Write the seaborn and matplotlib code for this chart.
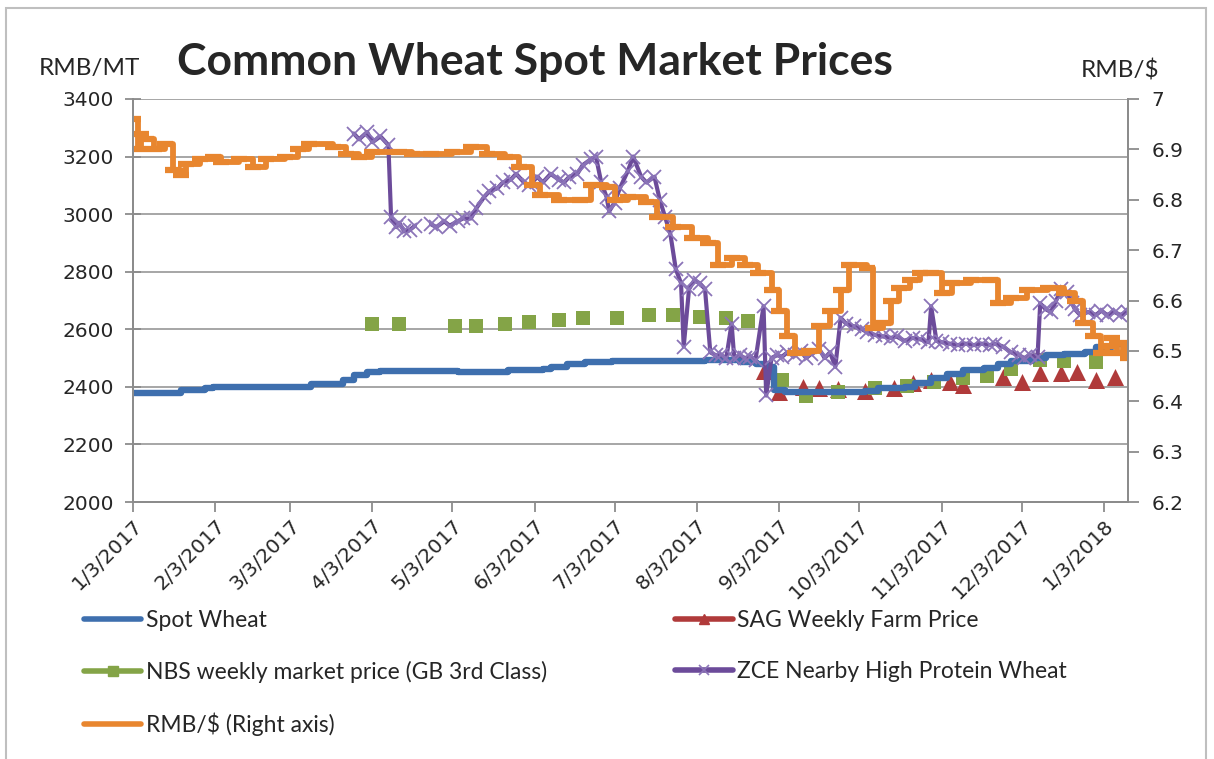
import matplotlib
matplotlib.use("Agg")
import matplotlib.pyplot as plt
import matplotlib.ticker as mticker
from matplotlib.lines import Line2D
from matplotlib.patches import Rectangle
import numpy as np
import pandas as pd
import seaborn as sns


START = pd.Timestamp("2017-01-03")
LAST_DAY = 374

BLUE = "#3E6FAE"
RED = "#B03A3A"
GREEN = "#84A447"
PURPLE = "#6C4B9A"
PURPLE_LIGHT = "#8B74B8"
ORANGE = "#E8862F"
GRID = "#a6a6a6"
AXIS = "#8c8c8c"

# days counted from 1/3/2017
spot_day = [0, 16, 18, 27, 30, 65, 67, 77, 79, 83, 88, 93, 118, 122, 136, 141, 154,
            157, 163, 170, 180, 215, 228, 234, 238, 241, 245, 275, 280, 290, 294, 300,
            306, 312, 320, 325, 330, 338, 343, 350, 358, 362, 368, 374]
spot_price = [2380, 2380, 2390, 2395, 2400, 2400, 2410, 2410, 2425, 2440, 2450, 2455,
              2455, 2450, 2452, 2458, 2462, 2470, 2478, 2485, 2490, 2492, 2488, 2480,
              2470, 2390, 2382, 2385, 2395, 2400, 2412, 2430, 2445, 2458, 2465, 2480,
              2490, 2500, 2510, 2515, 2520, 2540, 2548, 2552]

sag_day = [237, 243, 252, 258, 265, 275, 286, 293, 300, 307, 312, 327, 334, 341, 349,
           355, 362, 369]
sag_price = [2455, 2382, 2400, 2395, 2392, 2385, 2395, 2413, 2425, 2418, 2408, 2435,
             2417, 2448, 2448, 2452, 2424, 2435]

nbs_day = [90, 100, 121, 129, 140, 149, 160, 169, 182, 194, 203, 213, 223, 231, 244,
           253, 265, 279, 291, 301, 312, 321, 330, 341, 350, 362]
nbs_price = [2620, 2620, 2612, 2612, 2618, 2625, 2632, 2638, 2640, 2648, 2648, 2642,
             2640, 2630, 2425, 2368, 2382, 2395, 2403, 2417, 2430, 2437, 2462, 2495,
             2490, 2488]

zce_day = [83, 85, 88, 90, 93, 96, 97, 99, 100, 102, 104, 106,
           112, 114, 117, 119, 122, 124, 127, 129, 132, 134, 137, 139, 142, 144, 147,
           149, 152, 154, 157, 160, 162, 164, 167, 169, 172, 174, 176, 178, 179, 181,
           183, 186, 188, 191, 193, 196, 198, 200, 202, 204, 206, 207, 209, 211, 213,
           215, 217, 219, 221, 223, 225, 226, 228, 230, 232, 234, 237, 238, 240, 242,
           244, 246, 249, 251, 253, 255, 258, 260, 262, 264, 266, 268, 271, 274, 276,
           279, 282, 285, 287, 290, 293, 296, 299, 300, 302, 304, 307, 310, 313, 316,
           319, 322, 324, 327, 330, 333, 335, 337, 340, 341, 343, 345, 347, 349, 351,
           353, 354, 356, 359, 362, 364, 366, 369, 371, 374]
zce_price = [3280, 3260, 3285, 3250, 3270, 3240, 2990, 2955, 2970, 2940, 2945, 2960,
             2965, 2955, 2975, 2960, 2975, 2985, 2985, 3020, 3060, 3080, 3090, 3110,
             3120, 3140, 3110, 3100, 3130, 3110, 3140, 3120, 3110, 3130, 3140, 3170,
             3190, 3200, 3110, 3060, 3010, 3040, 3090, 3150, 3200, 3130, 3110, 3130,
             3050, 2990, 2930, 2810, 2760, 2540, 2740, 2770, 2760, 2740, 2520, 2510,
             2510, 2500, 2620, 2500, 2510, 2500, 2505, 2495, 2680, 2370, 2500, 2510,
             2505, 2520, 2510, 2525, 2500, 2515, 2530, 2500, 2520, 2470, 2640, 2620,
             2610, 2600, 2590, 2580, 2575, 2570, 2575, 2560, 2570, 2565, 2555, 2680,
             2560, 2555, 2550, 2545, 2550, 2545, 2550, 2545, 2550, 2540, 2520, 2510,
             2500, 2510, 2505, 2690, 2670, 2660, 2700, 2740, 2730, 2690, 2670, 2650,
             2660, 2650, 2665, 2650, 2660, 2650, 2660]

rmb_day = [0, 2, 3, 5, 8, 12, 15, 18, 20, 25, 30, 33, 40, 45, 50, 57, 62, 66, 75, 80,
           85, 90, 100, 105, 112, 120, 127, 133, 140, 145, 150, 153, 160, 168, 172, 178,
           181, 186, 193, 197, 203, 210, 216, 220, 225, 230, 235, 240, 243, 246, 249,
           254, 258, 262, 266, 269, 276, 278, 282, 285, 288, 292, 296, 300, 304, 308,
           315, 322, 325, 330, 336, 344, 350, 354, 357, 361, 364, 366, 368, 370, 372, 374]
rmb_rate = [6.96, 6.90, 6.93, 6.92, 6.90, 6.91, 6.86, 6.85, 6.87, 6.88, 6.885, 6.875,
            6.88, 6.865, 6.88, 6.885, 6.90, 6.91, 6.905, 6.89, 6.885, 6.895, 6.895,
            6.89, 6.89, 6.895, 6.905, 6.89, 6.885, 6.865, 6.83, 6.81, 6.80, 6.80, 6.83,
            6.825, 6.80, 6.805, 6.795, 6.765, 6.745, 6.725, 6.715, 6.67, 6.685, 6.67,
            6.655, 6.62, 6.58, 6.53, 6.495, 6.50, 6.55, 6.58, 6.62, 6.67, 6.665, 6.545,
            6.555, 6.60, 6.625, 6.64, 6.655, 6.655, 6.615, 6.635, 6.64, 6.64, 6.595,
            6.605, 6.62, 6.625, 6.615, 6.60, 6.555, 6.53, 6.495, 6.51, 6.525, 6.495,
            6.515, 6.485]

left_ticks = [2000, 2200, 2400, 2600, 2800, 3000, 3200, 3400]
right_ticks = [6.2, 6.3, 6.4, 6.5, 6.6, 6.7, 6.8, 6.9, 7.0]


def frame(days, values):
    return pd.DataFrame({
        "date": START + pd.to_timedelta(days, unit="D"),
        "value": values,
    })


spot = frame(spot_day, spot_price)
sag = frame(sag_day, sag_price)
nbs = frame(nbs_day, nbs_price)
zce = frame(zce_day, zce_price)
zce["seg"] = (np.array(zce_day) > 108).astype(int)  # gap around the May holiday
rmb = frame(rmb_day, rmb_rate)

sns.set_theme(style="white")
plt.rcParams["font.family"] = ["DejaVu Sans"]

fig = plt.figure(figsize=(12.14, 7.59), dpi=100)
ax = fig.add_axes([133 / 1214, 1 - 502 / 759, 995 / 1214, 403 / 759])

sns.lineplot(data=spot, x="date", y="value", ax=ax, color=BLUE, lw=4.6,
             drawstyle="steps-post", legend=False)
sns.scatterplot(data=sag, x="date", y="value", ax=ax, color=RED, marker="^",
                s=150, linewidth=0, legend=False)
sns.scatterplot(data=nbs, x="date", y="value", ax=ax, color=GREEN, marker="s",
                s=110, linewidth=0, legend=False)
sns.lineplot(data=zce, x="date", y="value", ax=ax, units="seg", estimator=None,
             color=PURPLE, lw=3, marker="x", markersize=10, mew=1.3,
             mec=PURPLE_LIGHT, legend=False)

ax2 = ax.twinx()
sns.lineplot(data=rmb, x="date", y="value", ax=ax2, color=ORANGE, lw=4.2,
             drawstyle="steps-post", marker="_", markersize=11, mew=4.5,
             mec=ORANGE, legend=False)

ax.set_xlim(START, START + pd.Timedelta(days=LAST_DAY))
ax.set_ylim(2000, 3400)
ax.set_yticks(left_ticks)
ax2.set_ylim(6.2, 7.0)
ax2.set_yticks(right_ticks)
ax2.yaxis.set_major_formatter(mticker.FuncFormatter(lambda v, _: f"{v:g}"))

tick_dates = pd.date_range(START, periods=13, freq=pd.DateOffset(months=1))
ax.set_xticks(tick_dates)
ax.set_xticklabels([f"{d.month}/{d.day}/{d.year}" for d in tick_dates],
                   rotation=45, ha="right", rotation_mode="anchor")

for a in (ax, ax2):
    a.set_xlabel("")
    a.set_ylabel("")
    a.spines["top"].set_visible(False)
    for side in ("left", "right", "bottom"):
        a.spines[side].set_color(AXIS)
        a.spines[side].set_linewidth(1.4)

ax.grid(axis="y", color=GRID, lw=1.4)
ax.grid(axis="x", visible=False)
ax2.grid(False)

ax.tick_params(axis="y", direction="inout", length=11, width=1.3, color=AXIS,
               labelsize=14.5, pad=8, labelcolor="#262626", left=True)
ax.tick_params(axis="x", direction="out", length=7, width=1.3, color=AXIS,
               labelsize=14.5, pad=3, labelcolor="#262626", bottom=True)
ax2.tick_params(axis="y", direction="out", length=8, width=1.3, color=AXIS,
                labelsize=14.5, pad=9, labelcolor="#262626", right=True)

fig.text(535 / 1214, 1 - 62 / 759, "Common Wheat Spot Market Prices", ha="center",
         va="center", fontsize=32, fontweight="bold", family="Lato")
fig.text(89 / 1214, 1 - 68 / 759, "RMB/MT", ha="center", va="center", fontsize=17.5,
         family="Lato", color="#262626")
fig.text(1120 / 1214, 1 - 70 / 759, "RMB/$", ha="center", va="center", fontsize=17.5,
         family="Lato", color="#262626")

handles = [
    Line2D([], [], color=BLUE, lw=4),
    Line2D([], [], color=GREEN, lw=4, marker="s", ms=7),
    Line2D([], [], color=ORANGE, lw=4),
    Line2D([], [], color=RED, lw=4, marker="^", ms=7),
    Line2D([], [], color=PURPLE, lw=4, marker="x", ms=7, mew=1.2, mec=PURPLE_LIGHT),
]
labels = [
    "Spot Wheat",
    "NBS weekly market price (GB 3rd Class)",
    "RMB/$ (Right axis)",
    "SAG Weekly Farm Price",
    "ZCE Nearby High Protein Wheat",
]
fig.legend(handles, labels, loc="upper left", bbox_to_anchor=(84 / 1214, 1 - 610 / 759),
           ncol=2, frameon=False, prop={"family": "Lato", "size": 16.5},
           handlelength=2.5, handletextpad=0.2, columnspacing=5.6, labelspacing=1.3,
           borderpad=0, borderaxespad=0)

fig.add_artist(Rectangle((6 / 1214, -0.01), 1200 / 1214, 1.01 - 8 / 759,
                         transform=fig.transFigure, fill=False, edgecolor="#bfbfbf",
                         lw=1.5))

fig.savefig("out.png", dpi=100)
